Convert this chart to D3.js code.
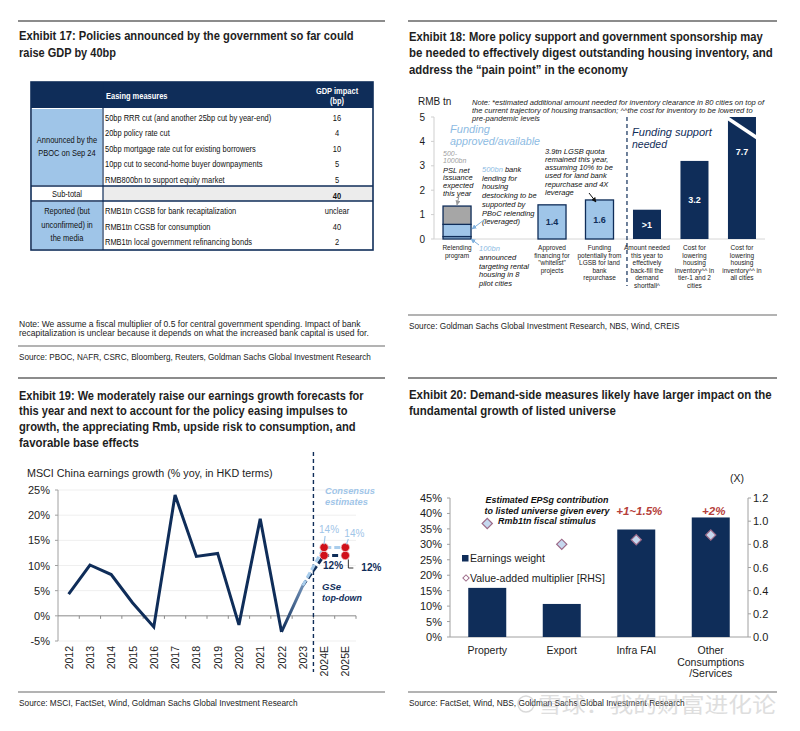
<!DOCTYPE html>
<html><head><meta charset="utf-8">
<script src="https://cdn.jsdelivr.net/npm/d3@7/dist/d3.min.js"></script>
<style>html,body{margin:0;padding:0;background:#fff}svg{display:block}</style>
</head><body>
<svg id="chart" width="800" height="731"></svg>
<script>
// ================= DATA =================
// Exhibit 17 (table)
const ex17Title = ["Exhibit 17: Policies announced by the government so far could", "raise GDP by 40bp"];
const ex17Header = ["Easing measures", "GDP impact", "(bp)"];
const ex17GroupA = ["Announced by the", "PBOC on Sep 24"];
const ex17MeasuresA = ["50bp RRR cut (and another 25bp cut by year-end)", "20bp policy rate cut", "50bp mortgage rate cut for existing borrowers", "10pp cut to second-home buyer downpayments", "RMB800bn to support equity market"];
const ex17ImpactA = ["16", "4", "10", "5", "5"];
const ex17SubLabel = "Sub-total";
const ex17SubValue = "40";
const ex17GroupB = ["Reported (but", "unconfirmed) in", "the media"];
const ex17MeasuresB = ["RMB1tn CGSB for bank recapitalization", "RMB1tn CGSB for consumption", "RMB1tn local government refinancing bonds"];
const ex17ImpactB = ["unclear", "40", "2"];
const ex17Note = ["Note: We assume a fiscal multiplier of 0.5 for central government spending. Impact of bank", "recapitalization is unclear because it depends on what the increased bank capital is used for."];
const ex17Source = "Source: PBOC, NAFR, CSRC, Bloomberg, Reuters, Goldman Sachs Global Investment Research";

// Exhibit 18
const ex18Title = ["Exhibit 18: More policy support and government sponsorship may", "be needed to effectively digest outstanding housing inventory, and", "address the \u201cpain point\u201d in the economy"];
const ex18Keys = ["relending", "gap", "whitelist", "lgsb", "backfill", "tier12", "allcities"];
const ex18CatLabels = [["Relending", "program"], [], ["Approved", "financing for", "\"whitelist\"", "projects"], ["Funding", "potentially from", "LGSB for land", "bank", "repurchase"], ["Amount needed", "this year to", "effectively", "back-fill the", "demand", "shortfall^"], ["Cost for", "lowering", "housing", "inventory^^ in", "tier-1 and 2", "cities"], ["Cost for", "lowering", "housing", "inventory^^ in", "all cities"]];
const ex18Values = [null, null, 1.4, 1.6, 1.2, 3.2, 7.7];
const ex18BarLabels = ["", "", "1.4", "1.6", ">1", "3.2", "7.7"];
const ex18Groups = ["available", "none", "available", "available", "needed", "needed", "needed"];
const relendingParts = [0.1, 0.5, 0.75];   // 100bn rental housing, 500bn destocking, 500-1000bn PSL
const ex18Ticks = [0, 1, 2, 3, 4, 5];
const ex18Note = ["Note: *estimated additional amount needed for inventory clearance in 80 cities on top of", "the current trajectory of housing transaction; ^^the cost for inventory to be lowered to", "pre-pandemic levels"];
const ex18Source = "Source: Goldman Sachs Global Investment Research, NBS, Wind, CREIS";

// Exhibit 19
const ex19Title = ["Exhibit 19: We moderately raise our earnings growth forecasts for", "this year and next to account for the policy easing impulses to", "growth, the appreciating Rmb, upside risk to consumption, and", "favorable base effects"];
const ex19Years = ["2012", "2013", "2014", "2015", "2016", "2017", "2018", "2019", "2020", "2021", "2022", "2023", "2024E", "2025E"];
const ex19Actual = [4.3, 10.1, 8.2, 2.6, -2.2, 24.0, 11.8, 12.4, -1.8, 19.3, -3.2, 6.0];
const ex19Consensus = [6.0, 13.6, 13.6];   // 2023, 2024E, 2025E
const ex19GSe = [6.0, 12.0, 12.0];
const ex19FcYears = ["2023", "2024E", "2025E"];
const ex19Ticks = [-5, 0, 5, 10, 15, 20, 25];
const ex19Source = "Source: MSCI, FactSet, Wind, Goldman Sachs Global Investment Research";

// Exhibit 20
const ex20Title = ["Exhibit 20: Demand-side measures likely have larger impact on the", "fundamental growth of listed universe"];
const ex20Categories = [["Property"], ["Export"], ["Infra FAI"], ["Other", "Consumptions", "/Services"]];
const ex20Weight = [15.9, 10.7, 34.8, 38.7];
const ex20Multiplier = [0.98, 0.80, 0.84, 0.88];
const ex20Contribution = ["", "", "+1~1.5%", "+2%"];
const ex20LeftTicks = [0, 5, 10, 15, 20, 25, 30, 35, 40, 45];
const ex20RightTicks = [0, 0.2, 0.4, 0.6, 0.8, 1.0, 1.2];
const ex20Source = "Source: FactSet, Wind, NBS, Goldman Sachs Global Investment Research";

// ================= DRAWING =================
const NAVY = "#0f2d59", LBLUE = "#9fc5e8", GRAY = "#a6a6a6", TXT = "#1c1c1c";
const SANS = "'Liberation Sans',Arial,Helvetica,sans-serif";
const svg = d3.select("#chart");
svg.append("rect").attr("width", 800).attr("height", 731).attr("fill", "#fff");
const defs = svg.append("defs");

// text helper; o.len fits the text to a width, o.sx condenses it horizontally
function txt(g, x, y, s, o = {}) {
  const t = g.append("text").text(s)
    .attr("font-family", o.family || SANS).attr("font-size", o.size || 11)
    .attr("fill", o.fill || TXT);
  if (o.weight) t.attr("font-weight", o.weight);
  if (o.style) t.attr("font-style", o.style);
  if (o.anchor) t.attr("text-anchor", o.anchor);
  if (o.len || o.sx) {
    t.attr("x", 0).attr("y", 0);
    const nat = t.node().getComputedTextLength() || 1;
    const sx = o.len ? o.len / nat : o.sx;
    t.attr("transform", `translate(${x},${y}) scale(${sx},1)`);
  } else {
    t.attr("x", x).attr("y", y);
  }
  return t;
}
function hline(x0, x1, y, color, w) {
  svg.append("line").attr("x1", x0).attr("x2", x1).attr("y1", y).attr("y2", y)
    .attr("stroke", color).attr("stroke-width", w);
}
function marker(id, color) {
  defs.append("marker").attr("id", id).attr("viewBox", "0 0 10 10").attr("refX", 9).attr("refY", 5)
    .attr("markerWidth", 5).attr("markerHeight", 5).attr("orient", "auto")
    .append("path").attr("d", "M0,0L10,5L0,10z").attr("fill", color);
}
marker("arGray", "#9a9a9a"); marker("arBlue", "#7fb0dd"); marker("arBlack", "#111");

function panel(x0, x1, topY, title, tY, tGap, tLens, ruleY, source, sLen) {
  hline(x0, x1, topY, "#8c8c8c", 2);
  title.forEach((s, i) => txt(svg, x0 + 1, tY + i * tGap, s, { size: 12.5, weight: "bold", fill: "#1e1e1e", len: tLens[i] }));
  hline(x0, x1, ruleY, "#9a9a9a", 1.5);
  txt(svg, x0 + 1, ruleY + 14, source, { size: 9, fill: "#222", len: sLen });
}
panel(18, 385, 21, ex17Title, 40, 16.8, [335, 97], 346, ex17Source, 352);
panel(408, 777, 21, ex18Title, 40.5, 16.6, [354, 364, 219], 315, ex18Source, 271);
panel(18, 385, 378, ex19Title, 399.5, 15.7, [345, 329, 337, 120], 692, ex19Source, 279);
panel(408, 777, 378, ex20Title, 398.5, 16.6, [363, 207], 692, ex20Source, 276);

// ---------------- Exhibit 17 table ----------------
(function () {
  const g = svg.append("g");
  const X0 = 31, X1 = 373, XC = 103, XV = 337;
  const rowA = d3.scaleLinear().domain([0, 1]).range([117.5, 133.1]);
  const rowB = d3.scaleLinear().domain([0, 1]).range([211, 226.5]);
  const HT = 82, HB = 108, ST = 186, SB = 201, TB = 250;
  g.append("rect").attr("x", X0).attr("y", HT).attr("width", X1 - X0).attr("height", HB - HT).attr("fill", NAVY);
  g.append("rect").attr("x", X0 + 1).attr("y", HB + 1).attr("width", XC - X0 - 2).attr("height", ST - HB - 2).attr("fill", LBLUE);
  g.append("rect").attr("x", XC).attr("y", ST).attr("width", X1 - XC).attr("height", SB - ST).attr("fill", "#ececec");
  g.append("rect").attr("x", X0 + 1).attr("y", SB + 1).attr("width", XC - X0 - 2).attr("height", TB - SB - 2).attr("fill", LBLUE);
  g.append("rect").attr("x", X0).attr("y", HT).attr("width", X1 - X0).attr("height", TB - HT).attr("fill", "none").attr("stroke", NAVY).attr("stroke-width", 1.6);
  g.append("line").attr("x1", XC).attr("x2", XC).attr("y1", HT).attr("y2", TB).attr("stroke", NAVY).attr("stroke-width", 1.2);
  [ST, SB].forEach(y => g.append("line").attr("x1", X0).attr("x2", X1).attr("y1", y).attr("y2", y).attr("stroke", NAVY).attr("stroke-width", 1.6));
  const f = { size: 8.5, fill: "#111", sx: 0.88 };
  txt(g, XC + 3, 98.5, ex17Header[0], { ...f, weight: "bold", fill: "#fff" });
  txt(g, XV, 93.5, ex17Header[1], { ...f, weight: "bold", fill: "#fff", anchor: "middle" });
  txt(g, XV, 104, ex17Header[2], { ...f, weight: "bold", fill: "#fff", anchor: "middle" });
  ex17MeasuresA.forEach((m, i) => {
    txt(g, XC + 2, rowA(i) + 3, m, f);
    txt(g, XV, rowA(i) + 3, ex17ImpactA[i], { ...f, anchor: "middle" });
  });
  ex17GroupA.forEach((s, i) => txt(g, (X0 + XC) / 2, 143 + i * 13, s, { ...f, anchor: "middle" }));
  txt(g, (X0 + XC) / 2, 197, ex17SubLabel, { ...f, anchor: "middle" });
  txt(g, XV, 199, ex17SubValue, { ...f, anchor: "middle", weight: "bold" });
  ex17MeasuresB.forEach((m, i) => {
    txt(g, XC + 2, rowB(i) + 3, m, f);
    txt(g, XV, rowB(i) + 3, ex17ImpactB[i], { ...f, anchor: "middle" });
  });
  ex17GroupB.forEach((s, i) => txt(g, (X0 + XC) / 2, 214 + i * 13.5, s, { ...f, anchor: "middle" }));
  ex17Note.forEach((s, i) => txt(svg, 19, 326.5 + i * 9.5, s, { size: 8.5, fill: "#222", len: [342, 350][i] }));
})();

// ---------------- Exhibit 18 ----------------
(function () {
  const g = svg.append("g");
  const y = d3.scaleLinear().domain([0, 5]).range([239, 117]).clamp(true);
  const x = d3.scaleBand().domain(ex18Keys).range([434, 765]).paddingInner(0.41).paddingOuter(0.19);
  const bw = x.bandwidth();
  txt(g, 418, 105, "RMB tn", { size: 10 });
  ex18Note.forEach((s, i) => txt(g, 472, 104.5 + i * 8.3, s, { size: 7, style: "italic", len: [293, 281, 68][i] }));
  g.append("line").attr("x1", 434).attr("x2", 434).attr("y1", y(5)).attr("y2", y(0)).attr("stroke", "#cfcfcf");
  ex18Ticks.forEach(t => {
    g.append("line").attr("x1", 431).attr("x2", 434).attr("y1", y(t)).attr("y2", y(t)).attr("stroke", "#cfcfcf");
    txt(g, 425, y(t) + 3.5, t, { size: 10, anchor: "end" });
  });
  g.append("line").attr("x1", 434).attr("x2", 765).attr("y1", y(0)).attr("y2", y(0)).attr("stroke", "#d6d6d6");
  const stackColors = [LBLUE, LBLUE, GRAY];
  let cum = 0;
  relendingParts.forEach((v, i) => {
    const y0 = cum, y1 = cum + v; cum = y1;
    g.append("rect").attr("x", x("relending")).attr("width", bw).attr("y", y(y1)).attr("height", y(y0) - y(y1))
      .attr("fill", stackColors[i]).attr("stroke", NAVY).attr("stroke-width", 1.3);
  });
  ex18Keys.forEach((k, i) => {
    const v = ex18Values[i];
    if (v == null) return;
    const avail = ex18Groups[i] === "available";
    g.append("rect").attr("x", x(k)).attr("width", bw).attr("y", y(v)).attr("height", y(0) - y(v))
      .attr("fill", avail ? LBLUE : NAVY).attr("stroke", NAVY).attr("stroke-width", avail ? 1.3 : 0);
    if (v > 5) {
      g.append("line").attr("x1", x(k) - 1).attr("y1", y(4.97)).attr("x2", x(k) + bw + 1).attr("y2", y(4.15))
        .attr("stroke", "#fff").attr("stroke-width", 3.5);
    }
    const frac = v > 5 ? 0.72 : 0.5;
    txt(g, x(k) + bw / 2, y(Math.min(v, 5) * frac) + 3.5, ex18BarLabels[i],
      { size: 9, weight: "bold", anchor: "middle", fill: avail ? NAVY : "#fff" });
  });
  ex18Keys.forEach((k, i) => ex18CatLabels[i].forEach((s, j) =>
    txt(g, x(k) + bw / 2, 250 + j * 7.6, s, { size: 6.5, anchor: "middle", fill: "#222" })));
  g.append("line").attr("x1", x("backfill") - 6).attr("x2", x("backfill") - 6).attr("y1", y(5)).attr("y2", 286)
    .attr("stroke", NAVY).attr("stroke-width", 1.2).attr("stroke-dasharray", "4,3");
  txt(g, 450, 133, "Funding", { size: 11, style: "italic", fill: "#8dbbe3", len: 40 });
  txt(g, 450, 145, "approved/available", { size: 11, style: "italic", fill: "#8dbbe3", len: 90 });
  txt(g, 632, 136, "Funding support", { size: 11, style: "italic", fill: NAVY, len: 80 });
  txt(g, 632, 147.5, "needed", { size: 11, style: "italic", fill: NAVY, len: 35 });
  const it = { size: 7.5, style: "italic", fill: "#111" };
  txt(g, 443, 155.5, "500-", { ...it, size: 7, fill: "#a0a0a0" });
  txt(g, 443, 162.5, "1000bn", { ...it, size: 7, fill: "#a0a0a0" });
  ["PSL net", "issuance", "expected", "this year"].forEach((s, i) => txt(g, 443, 172.5 + i * 7.7, s, it));
  g.append("line").attr("x1", 459).attr("y1", 196).attr("x2", 457).attr("y2", 205).attr("stroke", "#9a9a9a").attr("marker-end", "url(#arGray)");
  const t1 = g.append("text").attr("x", 482).attr("y", 172).attr("font-family", SANS).attr("font-size", 7.5).attr("font-style", "italic").attr("fill", "#111");
  t1.append("tspan").attr("fill", "#8dbbe3").text("500bn");
  t1.append("tspan").text(" bank");
  ["lending for", "housing", "destocking to be", "supported by", "PBoC relending", "(leveraged)"].forEach((s, i) => txt(g, 482, 180.7 + i * 8.7, s, it));
  g.append("line").attr("x1", 484).attr("y1", 220).attr("x2", 472).attr("y2", 229).attr("stroke", "#7fb0dd").attr("marker-end", "url(#arBlue)");
  txt(g, 479, 251, "100bn", { ...it, fill: "#8dbbe3" });
  ["announced", "targeting rental", "housing  in 8", "pilot cities"].forEach((s, i) => txt(g, 479, 260 + i * 8.7, s, it));
  g.append("line").attr("x1", 479).attr("y1", 245).attr("x2", 471).attr("y2", 239).attr("stroke", "#7fb0dd").attr("marker-end", "url(#arBlue)");
  ["3.9tn LGSB quota", "remained this year,", "assuming 10% to be", "used for land bank", "repurchase and 4X", "leverage"].forEach((s, i) => txt(g, 545, 153.5 + i * 8.3, s, it));
  g.append("line").attr("x1", 589).attr("y1", 193).attr("x2", 596).attr("y2", 202).attr("stroke", "#111").attr("marker-end", "url(#arBlack)");
})();

// ---------------- Exhibit 19 ----------------
(function () {
  const g = svg.append("g");
  const x = d3.scalePoint().domain(ex19Years).range([58, 356]).padding(0.5);
  const y = d3.scaleLinear().domain([-5, 25]).range([641, 490]);
  txt(g, 27, 477, "MSCI China earnings growth (% yoy, in HKD terms)", { size: 11, len: 246 });
  ex19Ticks.forEach(t => {
    if (t !== 0) g.append("line").attr("x1", 58).attr("x2", 356).attr("y1", y(t)).attr("y2", y(t)).attr("stroke", "#efefef");
    g.append("line").attr("x1", 55).attr("x2", 58).attr("y1", y(t)).attr("y2", y(t)).attr("stroke", "#a0a0a0");
    txt(g, 50, y(t) + 4, t + "%", { size: 11, anchor: "end" });
  });
  g.append("line").attr("x1", 58).attr("x2", 58).attr("y1", y(25)).attr("y2", y(-5)).attr("stroke", "#a0a0a0");
  g.append("line").attr("x1", 58).attr("x2", 356).attr("y1", y(0)).attr("y2", y(0)).attr("stroke", "#8a8a8a");
  const step = x.step();
  ex19Years.forEach(yr => {
    const bx = x(yr) + step / 2;
    g.append("line").attr("x1", bx).attr("x2", bx).attr("y1", y(0)).attr("y2", y(0) + 3).attr("stroke", "#8a8a8a");
    txt(g, x(yr) + 4, 646, yr, { size: 10.5, anchor: "end" }).attr("transform", `rotate(-90 ${x(yr) + 4} 646)`);
  });
  const xd = (x("2023") + x("2024E")) / 2;
  g.append("line").attr("x1", xd).attr("x2", xd).attr("y1", 452).attr("y2", 672)
    .attr("stroke", NAVY).attr("stroke-width", 1.4).attr("stroke-dasharray", "4,3");
  const line = d3.line().x(d => x(d[0])).y(d => y(d[1]));
  const act = ex19Years.slice(0, ex19Actual.length).map((yr, i) => [yr, ex19Actual[i]]);
  g.append("path").attr("d", line(act.slice(0, act.length - 1))).attr("fill", "none").attr("stroke", NAVY)
    .attr("stroke-width", 3).attr("stroke-linejoin", "miter");
  const last2 = act.slice(act.length - 2);
  const grad = defs.append("linearGradient").attr("id", "g19").attr("gradientUnits", "userSpaceOnUse")
    .attr("x1", x(last2[0][0])).attr("y1", y(last2[0][1])).attr("x2", x(last2[1][0])).attr("y2", y(last2[1][1]));
  grad.append("stop").attr("offset", 0).attr("stop-color", NAVY);
  grad.append("stop").attr("offset", 1).attr("stop-color", "#6f8fb5");
  g.append("path").attr("d", line(last2)).attr("fill", "none").attr("stroke", "url(#g19)").attr("stroke-width", 3);
  const gse = ex19FcYears.map((yr, i) => [yr, ex19GSe[i]]);
  const cons = ex19FcYears.map((yr, i) => [yr, ex19Consensus[i]]);
  g.append("path").attr("d", line(gse)).attr("fill", "none").attr("stroke", NAVY).attr("stroke-width", 3).attr("stroke-dasharray", "6,3");
  g.append("path").attr("d", line(cons)).attr("fill", "none").attr("stroke", "#a9cdec").attr("stroke-width", 3).attr("stroke-dasharray", "6,3");
  [...gse.slice(1), ...cons.slice(1)].forEach(d => g.append("circle").attr("cx", x(d[0])).attr("cy", y(d[1])).attr("r", 4.2)
    .attr("fill", "#d0101a").attr("stroke", "#f2c0c0").attr("stroke-width", 0.8));
  const xa = x("2024E"), xb = x("2025E");
  txt(g, 325, 494, "Consensus", { size: 9.5, weight: "bold", style: "italic", fill: "#9fc5e8", len: 50 });
  txt(g, 325, 505, "estimates", { size: 9.5, weight: "bold", style: "italic", fill: "#9fc5e8", len: 43 });
  txt(g, 322, 590, "GSe", { size: 9.5, weight: "bold", style: "italic", fill: NAVY });
  txt(g, 322, 601, "top-down", { size: 9.5, weight: "bold", style: "italic", fill: NAVY, len: 40 });
  txt(g, xa - 5, 533, "14%", { size: 10, fill: "#9fc5e8" });
  txt(g, xb - 1, 537, "14%", { size: 10, fill: "#9fc5e8" });
  g.append("line").attr("x1", xa + 1).attr("x2", xa).attr("y1", 536).attr("y2", y(ex19Consensus[1]) - 3).attr("stroke", "#9fc5e8").attr("stroke-width", 1.2);
  g.append("line").attr("x1", xb + 3).attr("x2", xb + 1).attr("y1", 539).attr("y2", y(ex19Consensus[2]) - 3).attr("stroke", "#9fc5e8").attr("stroke-width", 1.2);
  txt(g, xa - 1, 569, "12%", { size: 10, weight: "bold", fill: NAVY });
  g.append("path").attr("d", `M${xb + 3},${y(ex19GSe[2]) + 4}V568H${xb + 8}`).attr("fill", "none").attr("stroke", "#333").attr("stroke-width", 1);
  txt(g, xb + 16, 571, "12%", { size: 10, weight: "bold", fill: NAVY });
})();

// ---------------- Exhibit 20 ----------------
(function () {
  const g = svg.append("g");
  const x = d3.scaleBand().domain(d3.range(ex20Categories.length)).range([450, 748]).paddingInner(0.49).paddingOuter(0.245);
  const yL = d3.scaleLinear().domain([0, 45]).range([637, 498]);
  const yR = d3.scaleLinear().domain([0, 1.2]).range([637, 498]);
  const bw = x.bandwidth();
  txt(g, 737, 482, "(X)", { size: 10.5, anchor: "middle" });
  g.append("line").attr("x1", 450).attr("x2", 450).attr("y1", yL(45)).attr("y2", yL(0)).attr("stroke", "#a0a0a0");
  g.append("line").attr("x1", 748).attr("x2", 748).attr("y1", yR(1.2)).attr("y2", yR(0)).attr("stroke", "#a0a0a0");
  ex20LeftTicks.forEach(t => {
    g.append("line").attr("x1", 447).attr("x2", 450).attr("y1", yL(t)).attr("y2", yL(t)).attr("stroke", "#a0a0a0");
    txt(g, 442, yL(t) + 4, t + "%", { size: 11, anchor: "end" });
  });
  ex20RightTicks.forEach(t => {
    g.append("line").attr("x1", 748).attr("x2", 751).attr("y1", yR(t)).attr("y2", yR(t)).attr("stroke", "#a0a0a0");
    txt(g, 753, yR(t) + 4, d3.format(".1f")(t), { size: 11 });
  });
  g.append("line").attr("x1", 450).attr("x2", 748).attr("y1", yL(0)).attr("y2", yL(0)).attr("stroke", "#a0a0a0");
  ex20Weight.forEach((v, i) => g.append("rect").attr("x", x(i)).attr("width", bw).attr("y", yL(v)).attr("height", yL(0) - yL(v)).attr("fill", NAVY));
  const dia = d3.symbol().type(d3.symbolSquare).size(52);
  ex20Multiplier.forEach((v, i) => g.append("path").attr("d", dia())
    .attr("transform", `translate(${x(i) + bw / 2},${yR(v)}) rotate(45)`)
    .attr("fill", "#c6d8ef").attr("stroke", "#9c6a88").attr("stroke-width", 1.2));
  ex20Contribution.forEach((s, i) => { if (s) txt(g, x(i) + bw / 2 + 3, 515, s, { size: 11.5, weight: "bold", style: "italic", fill: "#b5403a", anchor: "middle" }); });
  ex20Categories.forEach((arr, i) => arr.forEach((s, j) => txt(g, x(i) + bw / 2, 654 + j * 11.5, s, { size: 10.5, anchor: "middle" })));
  const ann = { size: 8.5, weight: "bold", style: "italic", anchor: "middle", fill: "#111" };
  txt(g, 547, 502.5, "Estimated EPSg contribution", { ...ann, len: 123 });
  txt(g, 547, 514, "to listed universe given every", { ...ann, len: 125 });
  txt(g, 547, 524, "Rmb1tn fiscal stimulus", { ...ann, len: 98 });
  g.append("rect").attr("x", 462).attr("y", 555).attr("width", 6.5).attr("height", 6.5).attr("fill", NAVY);
  txt(g, 470, 562, "Earnings weight", { size: 10.5, len: 75 });
  g.append("path").attr("d", d3.symbol().type(d3.symbolSquare).size(20)()).attr("transform", "translate(466,578) rotate(45)")
    .attr("fill", "#fff").attr("stroke", "#9c6a88").attr("stroke-width", 1);
  txt(g, 470, 582, "Value-added multiplier [RHS]", { size: 10.5, len: 135 });
  // watermark present in the reference image
  const wm = svg.append("g").attr("opacity", 0.55);
  wm.append("circle").attr("cx", 526).attr("cy", 704).attr("r", 8).attr("fill", "none").attr("stroke", "#bbb").attr("stroke-width", 1.5);
  txt(wm, 538, 712, "雪球：我的财富进化论", { family: "'Noto Sans CJK SC',sans-serif", size: 21, fill: "#c4c4c4", len: 238 });
})();
</script>
</body></html>
